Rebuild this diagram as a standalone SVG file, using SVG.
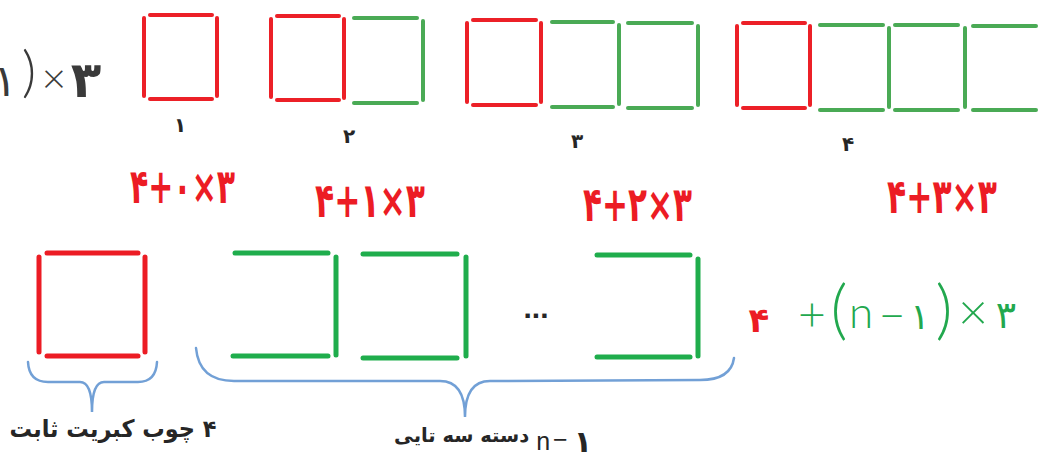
<svg xmlns="http://www.w3.org/2000/svg" width="1039" height="463" viewBox="0 0 1039 463">
  <style>
    .r { stroke: #ec2027; stroke-width: 4; stroke-linecap: round; fill: none; }
    .g { stroke: #4aaa55; stroke-width: 4; stroke-linecap: round; fill: none; }
    .r2 { stroke: #ec1c24; stroke-width: 5; stroke-linecap: round; fill: none; }
    .g2 { stroke: #1fad4c; stroke-width: 5; stroke-linecap: round; fill: none; }
    .brace { stroke: #72a0d6; stroke-width: 2.5; fill: none; stroke-linecap: round; }
    .fa { font-family: "DejaVu Sans", sans-serif; }
    .lat { font-family: "Liberation Sans", sans-serif; }
    .thin { font-family: Lato, "Open Sans", sans-serif; font-weight: 300; }
    .step { font-family: "DejaVu Sans", sans-serif; font-weight: bold; fill: #ec1c24; }
    .red { fill: #ec1c24; }
    .grn { fill: #22a84e; }
    .dark { fill: #262626; }
    .gray { fill: #3a3a3a; }
  </style>
  <rect width="1039" height="463" fill="#ffffff"/>

  <!-- general formula, left edge (partly outside the frame) -->
  <g id="formula-general-top">
    <text class="fa gray" x="17" y="96" font-size="44" text-anchor="end">(n−۱</text>
    <text class="thin gray" x="29" y="91" font-size="56" text-anchor="middle">)</text>
    <text class="thin gray" x="54" y="93" font-size="42" text-anchor="middle">×</text>
    <text class="fa gray" x="86" y="97" font-size="50" font-weight="bold" text-anchor="middle">۳</text>
  </g>

  <!-- stage 1: one square -->
  <g id="stage-1">
    <line class="r" x1="144" y1="18" x2="144" y2="96"/>
    <line class="r" x1="150" y1="15" x2="212" y2="15"/>
    <line class="r" x1="217" y1="18" x2="217" y2="96"/>
    <line class="r" x1="150" y1="99" x2="212" y2="99"/>
    <text class="fa dark" x="180" y="132" font-size="20" font-weight="bold" text-anchor="middle">۱</text>
    <text class="step" x="130" y="203" font-size="48" textLength="105" lengthAdjust="spacingAndGlyphs">۴+۰×۳</text>
  </g>

  <!-- stage 2: red square + one green set -->
  <g id="stage-2">
    <line class="r" x1="271" y1="19" x2="271" y2="97"/>
    <line class="r" x1="277" y1="16" x2="339" y2="16"/>
    <line class="r" x1="344" y1="19" x2="344" y2="98"/>
    <line class="r" x1="277" y1="100" x2="339" y2="100"/>
    <line class="g" x1="354" y1="18" x2="417" y2="18"/>
    <line class="g" x1="423" y1="21" x2="423" y2="100"/>
    <line class="g" x1="354" y1="103" x2="417" y2="103"/>
    <text class="fa dark" x="349" y="143" font-size="20" font-weight="bold" text-anchor="middle">۲</text>
    <text class="step" x="315" y="217" font-size="48" textLength="110" lengthAdjust="spacingAndGlyphs">۴+۱×۳</text>
  </g>

  <!-- stage 3: red square + two green sets -->
  <g id="stage-3">
    <line class="r" x1="467" y1="23" x2="467" y2="102"/>
    <line class="r" x1="473" y1="20" x2="536" y2="20"/>
    <line class="r" x1="541" y1="23" x2="541" y2="102"/>
    <line class="r" x1="473" y1="105" x2="536" y2="105"/>
    <line class="g" x1="552" y1="22" x2="613" y2="22"/>
    <line class="g" x1="619" y1="25" x2="619" y2="104"/>
    <line class="g" x1="552" y1="107" x2="613" y2="107"/>
    <line class="g" x1="628" y1="23" x2="692" y2="23"/>
    <line class="g" x1="698" y1="26" x2="698" y2="105"/>
    <line class="g" x1="628" y1="108" x2="692" y2="108"/>
    <text class="fa dark" x="577" y="148" font-size="20" font-weight="bold" text-anchor="middle">۳</text>
    <text class="step" x="583" y="221" font-size="48" textLength="109" lengthAdjust="spacingAndGlyphs">۴+۲×۳</text>
  </g>

  <!-- stage 4: red square + three green sets -->
  <g id="stage-4">
    <line class="r" x1="737" y1="26" x2="737" y2="105"/>
    <line class="r" x1="743" y1="23" x2="805" y2="23"/>
    <line class="r" x1="810" y1="26" x2="810" y2="105"/>
    <line class="r" x1="743" y1="108" x2="805" y2="108"/>
    <line class="g" x1="820" y1="25" x2="883" y2="25"/>
    <line class="g" x1="889" y1="28" x2="889" y2="107"/>
    <line class="g" x1="820" y1="110" x2="883" y2="110"/>
    <line class="g" x1="895" y1="25" x2="958" y2="25"/>
    <line class="g" x1="965" y1="28" x2="965" y2="107"/>
    <line class="g" x1="895" y1="110" x2="958" y2="110"/>
    <line class="g" x1="973" y1="26" x2="1036" y2="26"/>
    <line class="g" x1="973" y1="110" x2="1036" y2="110"/>
    <text class="fa dark" x="848" y="151" font-size="20" font-weight="bold" text-anchor="middle">۴</text>
    <text class="step" x="887" y="213" font-size="48" textLength="110" lengthAdjust="spacingAndGlyphs">۴+۳×۳</text>
  </g>

  <!-- general case: fixed square -->
  <g id="fixed-square">
    <line class="r2" x1="39" y1="257" x2="39" y2="352"/>
    <line class="r2" x1="47" y1="253" x2="138" y2="253"/>
    <line class="r2" x1="145" y1="257" x2="145" y2="352"/>
    <line class="r2" x1="47" y1="356" x2="138" y2="356"/>
    <path class="brace" d="M28,362 Q29,382 48,382 L80,382 Q92,382 92,412 Q92,382 104,382 L138,382 Q156,382 157,362"/>
    <text class="fa dark" x="113" y="437" font-size="24" font-weight="bold" text-anchor="middle" direction="rtl" textLength="207" lengthAdjust="spacingAndGlyphs">۴ چوب کبریت ثابت</text>
  </g>

  <!-- general case: n-1 sets of three -->
  <g id="sets-of-three">
    <line class="g2" x1="235" y1="253" x2="328" y2="253"/>
    <line class="g2" x1="336" y1="257" x2="336" y2="355"/>
    <line class="g2" x1="233" y1="356" x2="328" y2="356"/>
    <line class="g2" x1="363" y1="254" x2="457" y2="254"/>
    <line class="g2" x1="466" y1="257" x2="466" y2="356"/>
    <line class="g2" x1="363" y1="358" x2="457" y2="358"/>
    <text class="lat dark" x="536" y="318" font-size="30" font-weight="bold" text-anchor="middle">...</text>
    <line class="g2" x1="597" y1="255" x2="690" y2="255"/>
    <line class="g2" x1="698" y1="259" x2="698" y2="356"/>
    <line class="g2" x1="597" y1="357" x2="690" y2="357"/>
    <path class="brace" d="M196,348 Q199,381 234,381 L440,381 Q465,381 465,417 Q465,381 490,381 L700,380 Q731,380 734,358"/>
    <!-- label: Persian words on the left, n−1 on the right -->
    <text class="fa dark" x="394" y="442" font-size="19.5" font-weight="bold">دسته سه تایی<tspan class="lat" font-weight="normal" font-size="25" dy="8"> n</tspan><tspan class="lat" font-weight="normal" font-size="25" dx="3" dy="-2">−</tspan><tspan dx="6" dy="4" font-size="30">۱</tspan></text>
  </g>

  <!-- general formula -->
  <g id="formula-general">
    <text class="fa red" x="759" y="332" font-size="34" font-weight="bold" text-anchor="middle">۴</text>
    <text class="thin grn" x="812" y="331" font-size="48" text-anchor="middle">+</text>
    <text class="thin grn" x="839" y="332" font-size="66" text-anchor="middle">(</text>
    <text class="thin grn" x="861" y="328" font-size="44" text-anchor="middle">n</text>
    <text class="thin grn" x="892" y="331" font-size="46" text-anchor="middle">−</text>
    <text class="fa grn" x="920" y="329" font-size="36" text-anchor="middle">۱</text>
    <text class="thin grn" x="944" y="332" font-size="66" text-anchor="middle">)</text>
    <text class="thin grn" x="973" y="330" font-size="52" text-anchor="middle">×</text>
    <text class="fa grn" x="1006" y="328" font-size="38" text-anchor="middle">۳</text>
  </g>
</svg>
